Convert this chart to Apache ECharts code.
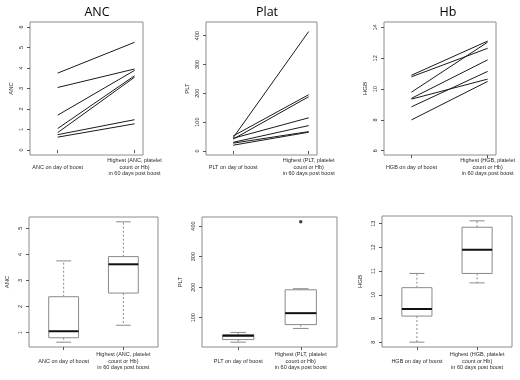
<!DOCTYPE html>
<html><head><meta charset="utf-8">
<script src="https://cdn.jsdelivr.net/npm/echarts@6/dist/echarts.min.js"></script>
<style>html,body{margin:0;padding:0;background:#fff}#c{width:520px;height:380px}</style>
</head><body><div id="c"></div>
<script>
// ---- data ----
const titles = ['ANC', 'Plat', 'Hb'];
const yNames = ['ANC', 'PLT', 'HGB'];
const catLabels = [
  ['ANC on day of boost', 'Highest (ANC, platelet\ncount or Hb)\nin 60 days post boost'],
  ['PLT on day of boost', 'Highest (PLT, platelet\ncount or Hb)\nin 60 days post boost'],
  ['HGB on day of boost', 'Highest (HGB, platelet\ncount or Hb)\nin 60 days post boost']
];
const ancDay  = [3.75, 3.05, 1.70, 1.05, 0.85, 0.75, 0.63];
const ancHigh = [5.25, 3.95, 3.88, 3.62, 3.55, 1.48, 1.28];
const pltDay  = [46, 52, 41, 44, 30, 27, 20];
const pltHigh = [414, 195, 188, 115, 88, 67, 65];
const hgbDay  = [10.9, 10.8, 9.8, 9.4, 9.35, 8.85, 8.0];
const hgbHigh = [13.12, 12.65, 13.05, 11.9, 10.65, 11.15, 10.5];
const topTicks = [[0, 1, 2, 3, 4, 5, 6], [0, 100, 200, 300, 400], [6, 8, 10, 12, 14]];
const boxTicks = [[1, 2, 3, 4, 5], [100, 200, 300, 400], [8, 9, 10, 11, 12, 13]];
const catPos = [1, 2];

// ---- helpers ----
const days = [ancDay, pltDay, hgbDay];
const highs = [ancHigh, pltHigh, hgbHigh];
function fivenum(a) {
  const x = [...a].sort((p, q) => p - q), n = x.length;
  const n4 = Math.floor((n + 3) / 2) / 2;
  return [1, n4, (n + 1) / 2, n + 1 - n4, n].map(d => 0.5 * (x[Math.floor(d) - 1] + x[Math.ceil(d) - 1]));
}
function boxStats(a) {
  const f = fivenum(a), iqr = f[3] - f[1];
  const lo = f[1] - 1.5 * iqr, hi = f[3] + 1.5 * iqr;
  const inside = a.filter(v => v >= lo && v <= hi);
  return { lw: Math.min(...inside), q1: f[1], med: f[2], q3: f[3], hw: Math.max(...inside),
           out: a.filter(v => v < lo || v > hi) };
}
function rExt(arrs) {
  const all = [].concat(...arrs); const mn = Math.min(...all), mx = Math.max(...all);
  const r = mx - mn; return [mn - 0.04 * r, mx + 0.04 * r];
}

const grids = [
  { left: 30, top: 22, width: 113, height: 133 },
  { left: 206, top: 22, width: 111, height: 133 },
  { left: 384, top: 22, width: 112, height: 133 },
  { left: 29, top: 217, width: 129, height: 130 },
  { left: 202, top: 217, width: 135, height: 130 },
  { left: 382, top: 216, width: 130, height: 131 }
];
const topYRange = [[-0.24, 6.24], [-14, 447], [5.72, 14.36]];
const labelColor = '#2a2a2a';
const frameColor = '#8c8c8c';

const option = {
  animation: false,
  backgroundColor: '#fff',
  title: titles.map((t, i) => ({
    text: t, left: [92, 262, 443][i], top: 1, textAlign: 'center',
    textStyle: { fontFamily: 'Open Sans', fontSize: 12.5, fontWeight: 'normal', color: '#000' }
  })),
  grid: grids.map(g => Object.assign({ show: true, borderColor: frameColor, borderWidth: 1, backgroundColor: 'transparent' }, g)),
  xAxis: [], yAxis: [], series: []
};

for (let i = 0; i < 6; i++) {
  const p = i % 3, top = i < 3;
  option.xAxis.push({
    type: 'value', gridIndex: i,
    min: top ? 0.64 : 0.42, max: top ? 2.11 : 2.58,
    axisLine: { show: false }, splitLine: { show: false },
    axisTick: { show: true, customValues: catPos, length: 3, lineStyle: { color: '#555' } },
    axisLabel: {
      customValues: catPos, formatter: v => catLabels[p][Math.round(v) - 1],
      fontFamily: 'Liberation Sans', fontSize: 5.5, lineHeight: 6.6, color: labelColor,
      verticalAlign: 'middle', margin: top ? 12 : 14, align: 'center'
    }
  });
  const yr = top ? topYRange[p] : rExt([days[p], highs[p]]);
  const ticks = top ? topTicks[p] : boxTicks[p];
  option.yAxis.push({
    type: 'value', gridIndex: i, min: yr[0], max: yr[1],
    axisLine: { show: false }, splitLine: { show: false },
    axisTick: { show: true, customValues: ticks, length: 3, lineStyle: { color: '#555' } },
    axisLabel: { customValues: ticks, rotate: 90, fontFamily: 'Liberation Sans', fontSize: 5.5, color: labelColor, margin: 6 },
    name: yNames[p], nameLocation: 'middle', nameGap: top ? 16 : 19,
    nameTextStyle: { fontFamily: 'Liberation Sans', fontSize: 6, color: labelColor }
  });
  if (top) {
    days[p].forEach((d, k) => {
      option.series.push({
        type: 'line', xAxisIndex: i, yAxisIndex: i, silent: true, symbol: 'none',
        lineStyle: { color: '#1a1a1a', width: 1 },
        data: [[catPos[0], d], [catPos[1], highs[p][k]]]
      });
    });
  } else {
    const stats = [boxStats(days[p]), boxStats(highs[p])];
    option.series.push({
      type: 'custom', xAxisIndex: i, yAxisIndex: i, silent: true,
      encode: { x: 0, y: [1, 2, 3, 4, 5] },
      data: stats.map((s, k) => [catPos[k], s.lw, s.q1, s.med, s.q3, s.hw]),
      renderItem: function (params, api) {
        const x = api.value(0), lw = api.value(1), q1 = api.value(2), med = api.value(3), q3 = api.value(4), hw = api.value(5);
        const hwid = 0.25, cwid = 0.125;
        const c = (a, b) => api.coord([a, b]);
        const gray = '#8a8a8a';
        const ln = (p1, p2, st) => ({ type: 'line', shape: { x1: p1[0], y1: p1[1], x2: p2[0], y2: p2[1] }, style: st });
        const tl = c(x - hwid, q3), br = c(x + hwid, q1);
        return { type: 'group', children: [
          ln(c(x, q3), c(x, hw), { stroke: gray, lineWidth: 1, lineDash: [2, 2] }),
          ln(c(x, q1), c(x, lw), { stroke: gray, lineWidth: 1, lineDash: [2, 2] }),
          ln(c(x - cwid, hw), c(x + cwid, hw), { stroke: gray, lineWidth: 1 }),
          ln(c(x - cwid, lw), c(x + cwid, lw), { stroke: gray, lineWidth: 1 }),
          { type: 'rect', shape: { x: tl[0], y: tl[1], width: br[0] - tl[0], height: br[1] - tl[1] },
            style: { fill: '#fff', stroke: gray, lineWidth: 1 } },
          ln(c(x - hwid, med), c(x + hwid, med), { stroke: '#111', lineWidth: 2 })
        ] };
      }
    });
    const outs = [];
    stats.forEach((s, k) => s.out.forEach(v => outs.push([catPos[k], v])));
    option.series.push({
      type: 'scatter', xAxisIndex: i, yAxisIndex: i, silent: true,
      symbolSize: 3.5, itemStyle: { color: '#111' }, data: outs
    });
  }
}

const chart = echarts.init(document.getElementById('c'), null, { renderer: 'canvas' });
chart.setOption(option);
</script>
</body></html>
